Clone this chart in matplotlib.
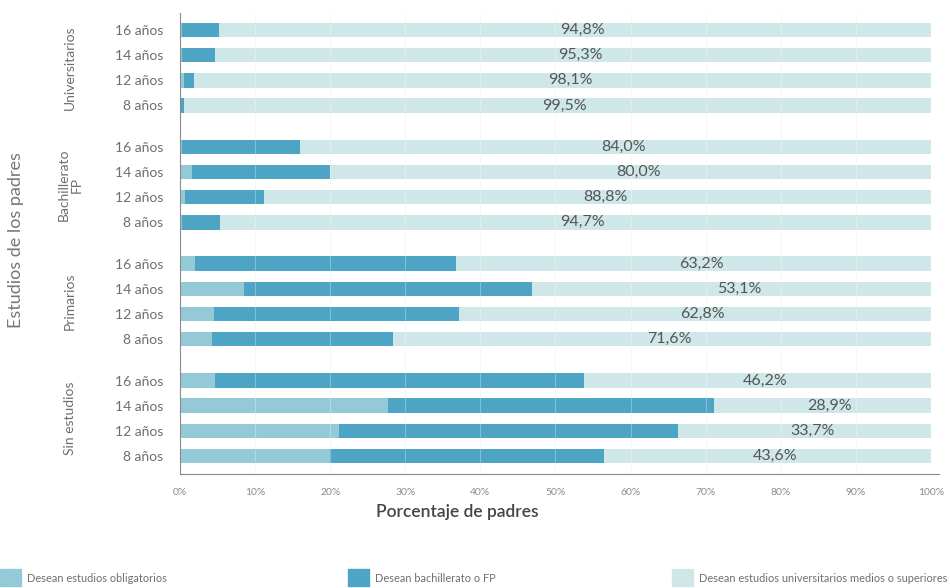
import numpy as np
import matplotlib
matplotlib.use("Agg")
from matplotlib import pyplot as plt
from matplotlib.patches import Rectangle
from matplotlib.transforms import blended_transform_factory

plt.rcParams['font.family'] = ['Lato', 'DejaVu Sans']

# datos (porcentaje de padres), cada grupo de arriba a abajo: 16, 14, 12, 8 años
grupos = ["Universitarios", "Bachillerato\nFP", "Primarios", "Sin estudios"]
edades = ["16 años", "14 años", "12 años", "8 años"]
obligatorios = [
    [0.2, 0.3, 0.5, 0.1],
    [0.3, 1.6, 0.7, 0.3],
    [2.0, 8.5, 4.5, 4.3],
    [4.7, 27.7, 21.2, 20.0],
]
bachillerato = [
    [5.0, 4.4, 1.4, 0.4],
    [15.7, 18.4, 10.5, 5.0],
    [34.8, 38.4, 32.7, 24.1],
    [49.1, 43.4, 45.1, 36.4],
]
universitarios = [
    [94.8, 95.3, 98.1, 99.5],
    [84.0, 80.0, 88.8, 94.7],
    [63.2, 53.1, 62.8, 71.6],
    [46.2, 28.9, 33.7, 43.6],
]

c_obl = "#94cad8"
c_bac = "#4da4c4"
c_uni = "#d0e7e9"
gris = "#6e6e6e"

fig = plt.figure(figsize=(9.5, 5.88), dpi=100)
ax = fig.add_axes([180 / 950, 1 - 474 / 588, 758.5 / 950, 461 / 588])

hueco = 0.65
ypos, yetq = [], []
for g in range(len(grupos)):
    for r in range(len(edades)):
        ypos.append(g * (len(edades) + hueco) + r)
        yetq.append(edades[r])
ypos = np.array(ypos)

obl = np.array(obligatorios).ravel()
bac = np.array(bachillerato).ravel()
uni = np.array(universitarios).ravel()

h = 0.58
ax.barh(ypos, obl, height=h, color=c_obl, zorder=2)
ax.barh(ypos, bac, left=obl, height=h, color=c_bac, zorder=2)
ax.barh(ypos, uni, left=obl + bac, height=h, color=c_uni, zorder=2)

for y, o, b, u in zip(ypos, obl, bac, uni):
    ax.text(o + b + u / 2 + 1, y, ("%.1f%%" % u).replace(".", ","),
            ha="center", va="center", fontsize=11.5, color="#555555", zorder=3)

ax.set_xlim(0, 101)
ax.set_ylim(ypos[-1] + 0.72, -0.68)
ax.set_xticks(np.arange(0, 101, 10))
ax.set_xticklabels(["%d%%" % v for v in range(0, 101, 10)], fontsize=7.5, color="#8a8a8a")
ax.set_yticks(ypos)
ax.set_yticklabels(yetq, fontsize=10, color=gris)
ax.tick_params(axis="y", length=0, pad=12)
ax.tick_params(axis="x", length=0, pad=10)
for v in range(10, 100, 10):
    ax.axvline(v, color="#eef2f3", lw=0.6, zorder=1)
    ax.axvline(v, color="white", lw=0.8, alpha=0.3, zorder=2.5)

ax.spines["top"].set_visible(False)
ax.spines["right"].set_visible(False)
ax.spines["left"].set_color("#8a8a8a")
ax.spines["bottom"].set_color("#8a8a8a")
ax.spines["left"].set_linewidth(0.8)
ax.spines["bottom"].set_linewidth(0.8)

trans = blended_transform_factory(fig.transFigure, ax.transData)
for g, nombre in enumerate(grupos):
    yc = ypos[g * 4:(g + 1) * 4].mean()
    ax.text(70 / 950, yc, nombre, transform=trans, rotation=90, ha="center", va="center",
            fontsize=10, color=gris, linespacing=1.1)

fig.text(16 / 950, 1 - 240 / 588, "Estudios de los padres", rotation=90, ha="center",
         va="center", fontsize=13, color="#777777")
fig.text(457 / 950, 1 - 512 / 588, "Porcentaje de padres", ha="center", va="center",
         fontsize=12.5, color="#444444", fontweight="semibold")

# leyenda
leyenda = [(0, c_obl, "Desean estudios obligatorios"),
           (348, c_bac, "Desean bachillerato o FP"),
           (672, c_uni, "Desean estudios universitarios medios o superiores")]
for x0, col, txt in leyenda:
    fig.patches.append(Rectangle((x0 / 950, 1 - 586 / 588), 21 / 950, 17 / 588,
                                 transform=fig.transFigure, color=col))
    fig.text((x0 + 27) / 950, 1 - 578 / 588, txt, ha="left", va="center",
             fontsize=7.9, color=gris)

fig.savefig("out.png", dpi=100)
